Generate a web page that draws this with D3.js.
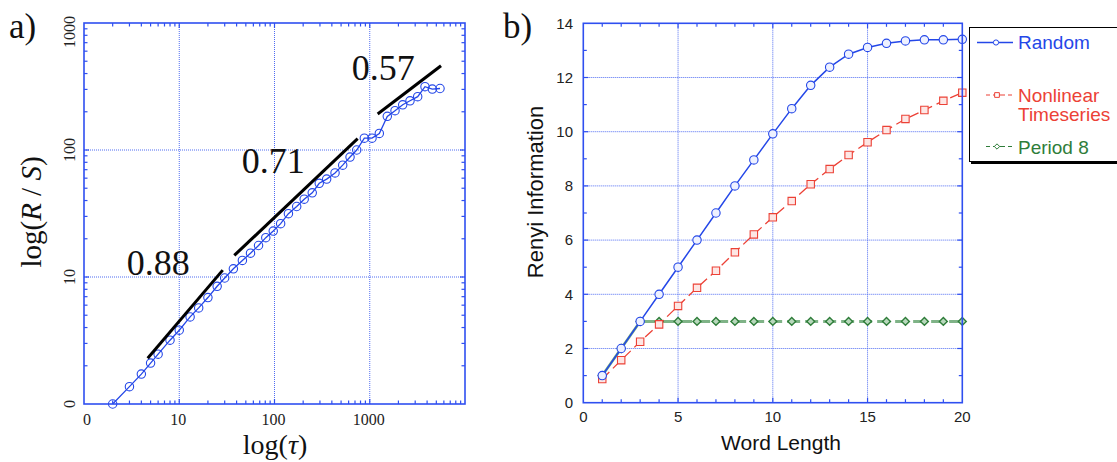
<!DOCTYPE html>
<html>
<head>
<meta charset="utf-8">
<script src="https://cdn.jsdelivr.net/npm/d3@7"></script>
<style>
  html, body { margin: 0; padding: 0; background: #fff; }
  svg { display: block; }
</style>
</head>
<body>
<svg id="chart" width="1117" height="462"></svg>
<script>
// ---- Panel a: rescaled range vs. lag (log-log) ----
const tau = [2, 3, 4, 5, 6, 8, 10, 13, 16, 20, 25, 30, 37, 46, 56, 68, 81, 97, 116, 140,
             171, 205, 249, 295, 353, 432, 520, 621, 730, 877, 1056, 1260, 1528, 1842, 2218,
             2647, 3186, 3802, 4539, 5466];
const rs = [1.0, 1.37, 1.72, 2.1, 2.47, 3.18, 3.81, 4.85, 5.71, 6.89, 8.45, 9.82, 11.6, 13.5,
            15.4, 17.7, 20.4, 23.0, 26.3, 31.5, 35.9, 41.0, 46.0, 54.7, 59.0, 66.0, 76.0, 88.0,
            100.0, 124.0, 124.0, 135.0, 184.0, 204.0, 227.0, 244.0, 263.0, 315.0, 302.0, 305.0];

// scaling-exponent fits: slope, centre (tau, R/S), half-width in decades of tau
const fitSlope = [0.88, 0.71, 0.57];
const fitMidTau = [11.55, 168.1, 2604];
const fitMidRS = [5.1, 42.6, 297.5];
const fitHalfDecades = [0.394, 0.6475, 0.3325];
// where each exponent label sits (tau, R/S at text baseline start)
const fitLabelTau = [2.81, 45.3, 646];
const fitLabelRS = [10.4, 65.5, 356];

const xTicksA = [1, 10, 100, 1000];
const xTickLabelsA = ["0", "10", "100", "1000"];
const yTicksA = [1, 10, 100, 1000];
const yTickLabelsA = ["0", "10", "100", "1000"];

// ---- Panel b: Renyi information vs. word length ----
const wordLength = [1, 2, 3, 4, 5, 6, 7, 8, 9, 10, 11, 12, 13, 14, 15, 16, 17, 18, 19, 20];
const randomInfo = [1, 2, 3, 4, 5, 6, 7, 8, 8.96, 9.92, 10.85, 11.71, 12.38, 12.86, 13.11,
                    13.26, 13.35, 13.39, 13.39, 13.41];
const nonlinearInfo = [0.875, 1.57, 2.25, 2.89, 3.57, 4.24, 4.87, 5.55, 6.21, 6.84, 7.44,
                       8.06, 8.62, 9.14, 9.61, 10.06, 10.47, 10.8, 11.14, 11.44];
const period8Info = [1, 2, 3, 3, 3, 3, 3, 3, 3, 3, 3, 3, 3, 3, 3, 3, 3, 3, 3, 3];
const seriesNames = ["Random", "Nonlinear Timeseries", "Period 8"];

const xTicksB = [0, 5, 10, 15, 20];
const yTicksB = [0, 2, 4, 6, 8, 10, 12, 14];

const svg = d3.select("#chart");
const AXIS = "#2f4ff0";
const GRID = "#4f6cf2";
const BLUE = "#2447e8";
const RED = "#ec4136";
const GREEN = "#2f7d3a";
const SERIF = "'Liberation Serif', 'Times New Roman', serif";
const SANS = "'Liberation Sans', Arial, Helvetica, sans-serif";

// ================= Panel a =================
const xA = d3.scaleLog().domain([1, 10000]).range([84, 465]);
const yA = d3.scaleLog().domain([1, 1000]).range([404, 23]);
const gA = svg.append("g");

// dotted decade grid
gA.selectAll(".gx").data([10, 100, 1000]).join("line")
  .attr("x1", d => xA(d)).attr("x2", d => xA(d))
  .attr("y1", yA.range()[0]).attr("y2", yA.range()[1])
  .attr("stroke", GRID).attr("stroke-width", 1).attr("stroke-dasharray", "1,1");
gA.selectAll(".gy").data([10, 100]).join("line")
  .attr("y1", d => yA(d)).attr("y2", d => yA(d))
  .attr("x1", xA.range()[0]).attr("x2", xA.range()[1])
  .attr("stroke", GRID).attr("stroke-width", 1).attr("stroke-dasharray", "1,1");

// inward ticks on all four sides
function logTicks(domain) {
  const out = [];
  for (let dec = domain[0]; dec < domain[1]; dec *= 10)
    for (let k = 1; k < 10; k++) out.push({v: dec * k, major: k === 1});
  return out.filter(t => t.v > domain[0]);
}
const xtA = logTicks(xA.domain());
const ytA = logTicks(yA.domain());
[yA.range()[0], yA.range()[1]].forEach((yy, i) => {
  gA.append("g").selectAll("line").data(xtA).join("line")
    .attr("x1", d => xA(d.v)).attr("x2", d => xA(d.v))
    .attr("y1", yy).attr("y2", d => yy + (i === 0 ? -1 : 1) * (d.major ? 5 : 3.5))
    .attr("stroke", AXIS).attr("stroke-width", 1.2);
});
[xA.range()[0], xA.range()[1]].forEach((xx, i) => {
  gA.append("g").selectAll("line").data(ytA).join("line")
    .attr("y1", d => yA(d.v)).attr("y2", d => yA(d.v))
    .attr("x1", xx).attr("x2", d => xx + (i === 0 ? 1 : -1) * (d.major ? 5 : 3.5))
    .attr("stroke", AXIS).attr("stroke-width", 1.2);
});

// data line and markers
const lineA = d3.line().x((d, i) => xA(tau[i])).y(d => yA(d));
gA.append("path").datum(rs).attr("d", lineA)
  .attr("fill", "none").attr("stroke", BLUE).attr("stroke-width", 1.3);
gA.selectAll(".pt").data(rs).join("circle")
  .attr("cx", (d, i) => xA(tau[i])).attr("cy", d => yA(d)).attr("r", 4.2)
  .attr("fill", "none").attr("stroke", BLUE).attr("stroke-width", 1.1);

// frame
gA.append("rect")
  .attr("x", xA.range()[0]).attr("y", yA.range()[1])
  .attr("width", xA.range()[1] - xA.range()[0]).attr("height", yA.range()[0] - yA.range()[1])
  .attr("fill", "none").attr("stroke", AXIS).attr("stroke-width", 1.6);

// fitted power-law segments
fitSlope.forEach((s, i) => {
  const lt0 = Math.log10(fitMidTau[i]) - fitHalfDecades[i];
  const lt1 = Math.log10(fitMidTau[i]) + fitHalfDecades[i];
  const ly0 = Math.log10(fitMidRS[i]) - s * fitHalfDecades[i];
  const ly1 = Math.log10(fitMidRS[i]) + s * fitHalfDecades[i];
  gA.append("line")
    .attr("x1", xA(10 ** lt0)).attr("y1", yA(10 ** ly0))
    .attr("x2", xA(10 ** lt1)).attr("y2", yA(10 ** ly1))
    .attr("stroke", "#000").attr("stroke-width", 3);
  gA.append("text")
    .attr("x", xA(fitLabelTau[i])).attr("y", yA(fitLabelRS[i]))
    .attr("font-family", SERIF).attr("font-size", 36).attr("fill", "#111")
    .text(d3.format(".2f")(s));
});

// tick labels
gA.selectAll(".xl").data(xTicksA).join("text")
  .attr("x", (d, i) => xA(d) + (i === 0 ? 3 : -1)).attr("y", 425)
  .attr("text-anchor", "middle").attr("font-family", SERIF).attr("font-size", 16)
  .attr("fill", "#222").text((d, i) => xTickLabelsA[i]);
gA.selectAll(".yl").data(yTicksA).join("text")
  .attr("transform", d => `translate(75,${Math.max(yA(d), 32)}) rotate(-90)`)
  .attr("text-anchor", "middle").attr("font-family", SERIF).attr("font-size", 16)
  .attr("fill", "#222").text((d, i) => yTickLabelsA[i]);

// axis titles
const tx = svg.append("text")
  .attr("x", 275).attr("y", 454).attr("text-anchor", "middle")
  .attr("font-family", SERIF).attr("font-size", 28).attr("fill", "#111");
tx.append("tspan").text("log(");
tx.append("tspan").attr("font-style", "italic").text("τ");
tx.append("tspan").text(")");

const ty = svg.append("text")
  .attr("transform", "translate(41,212) rotate(-90)").attr("text-anchor", "middle")
  .attr("font-family", SERIF).attr("font-size", 29).attr("fill", "#111");
ty.append("tspan").text("log(");
ty.append("tspan").attr("font-style", "italic").text("R");
ty.append("tspan").text(" / ");
ty.append("tspan").attr("font-style", "italic").text("S");
ty.append("tspan").text(")");

svg.append("text").attr("x", 9).attr("y", 38)
  .attr("font-family", SERIF).attr("font-size", 35).attr("fill", "#111").text("a)");

// ================= Panel b =================
const xB = d3.scaleLinear().domain([0, 20]).range([583.3, 962.3]);
const yB = d3.scaleLinear().domain([0, 14]).range([402.7, 23.3]);
const gB = svg.append("g");

gB.selectAll(".gx").data([5, 10, 15]).join("line")
  .attr("x1", d => xB(d)).attr("x2", d => xB(d))
  .attr("y1", yB.range()[0]).attr("y2", yB.range()[1])
  .attr("stroke", GRID).attr("stroke-width", 1).attr("stroke-dasharray", "1,1");
gB.selectAll(".gy").data([2, 4, 6, 8, 10, 12]).join("line")
  .attr("y1", d => yB(d)).attr("y2", d => yB(d))
  .attr("x1", xB.range()[0]).attr("x2", xB.range()[1])
  .attr("stroke", GRID).attr("stroke-width", 1).attr("stroke-dasharray", "1,1");

const xtB = d3.range(1, 20).map(v => ({v, major: v % 5 === 0}));
const ytB = d3.range(1, 14).map(v => ({v, major: v % 2 === 0}));
[yB.range()[0], yB.range()[1]].forEach((yy, i) => {
  gB.append("g").selectAll("line").data(xtB).join("line")
    .attr("x1", d => xB(d.v)).attr("x2", d => xB(d.v))
    .attr("y1", yy).attr("y2", d => yy + (i === 0 ? -1 : 1) * (d.major ? 5 : 3.5))
    .attr("stroke", AXIS).attr("stroke-width", 1.2);
});
[xB.range()[0], xB.range()[1]].forEach((xx, i) => {
  gB.append("g").selectAll("line").data(ytB).join("line")
    .attr("y1", d => yB(d.v)).attr("y2", d => yB(d.v))
    .attr("x1", xx).attr("x2", d => xx + (i === 0 ? 1 : -1) * (d.major ? 5 : 3.5))
    .attr("stroke", AXIS).attr("stroke-width", 1.2);
});

const lineB = d3.line().x((d, i) => xB(wordLength[i])).y(d => yB(d));

// Period 8 (drawn first, underneath)
gB.append("path").datum(period8Info.slice(0, 3)).attr("d", lineB)
  .attr("fill", "none").attr("stroke", "#6fa878").attr("stroke-width", 2.6);
gB.append("path").datum(period8Info)
  .attr("d", d3.line().x((d, i) => xB(wordLength[i])).y(d => yB(d)).defined((d, i) => i >= 2))
  .attr("fill", "none").attr("stroke", "#7fb387").attr("stroke-width", 3)
  .attr("stroke-dasharray", "13,5").attr("stroke-dashoffset", -3);

// Nonlinear timeseries
gB.append("path").datum(nonlinearInfo).attr("d", lineB)
  .attr("fill", "none").attr("stroke", RED).attr("stroke-width", 1.3)
  .attr("stroke-dasharray", "10,5");

// Random
gB.append("path").datum(randomInfo).attr("d", lineB)
  .attr("fill", "none").attr("stroke", BLUE).attr("stroke-width", 1.5);

const diamond = d3.symbol().type(d3.symbolDiamond2).size(40);
const square = d3.symbol().type(d3.symbolSquare2).size(70);

gB.selectAll(".p8").data(period8Info).join("path")
  .attr("transform", (d, i) => `translate(${xB(wordLength[i])},${yB(d)})`)
  .attr("d", diamond).attr("fill", "#b8d8bc").attr("stroke", GREEN).attr("stroke-width", 1.4);
gB.selectAll(".nl").data(nonlinearInfo).join("path")
  .attr("transform", (d, i) => `translate(${xB(wordLength[i])},${yB(d)})`)
  .attr("d", square).attr("fill", "#fde6e4").attr("stroke", RED).attr("stroke-width", 1.1);
gB.selectAll(".rn").data(randomInfo).join("circle")
  .attr("cx", (d, i) => xB(wordLength[i])).attr("cy", d => yB(d)).attr("r", 4.2)
  .attr("fill", "#eef1ff").attr("stroke", BLUE).attr("stroke-width", 1.1);

gB.append("rect")
  .attr("x", xB.range()[0]).attr("y", yB.range()[1])
  .attr("width", xB.range()[1] - xB.range()[0]).attr("height", yB.range()[0] - yB.range()[1])
  .attr("fill", "none").attr("stroke", AXIS).attr("stroke-width", 1.6);

gB.selectAll(".xl").data(xTicksB).join("text")
  .attr("x", d => xB(d)).attr("y", 422).attr("text-anchor", "middle")
  .attr("font-family", SANS).attr("font-size", 15).attr("fill", "#222").text(d => d);
gB.selectAll(".yl").data(yTicksB).join("text")
  .attr("x", 573).attr("y", d => yB(d)).attr("dy", "0.35em").attr("text-anchor", "end")
  .attr("font-family", SANS).attr("font-size", 15).attr("fill", "#222").text(d => d);

svg.append("text").attr("x", 781).attr("y", 450).attr("text-anchor", "middle")
  .attr("font-family", SANS).attr("font-size", 21).attr("fill", "#111").text("Word Length");
svg.append("text").attr("transform", "translate(543,192) rotate(-90)").attr("text-anchor", "middle")
  .attr("font-family", SANS).attr("font-size", 22).attr("fill", "#111").text("Renyi Information");

svg.append("text").attr("x", 503).attr("y", 38)
  .attr("font-family", SERIF).attr("font-size", 35).attr("fill", "#111").text("b)");

// ---- legend ----
const lg = svg.append("g");
lg.append("rect").attr("x", 971).attr("y", 29).attr("width", 170).attr("height", 135).attr("fill", "#000");
lg.append("rect").attr("x", 969.5).attr("y", 27.5).attr("width", 170).attr("height", 134)
  .attr("fill", "#fff").attr("stroke", "#000").attr("stroke-width", 1);

// Random
lg.append("line").attr("x1", 977).attr("x2", 1013).attr("y1", 42.5).attr("y2", 42.5)
  .attr("stroke", BLUE).attr("stroke-width", 1.3);
lg.append("circle").attr("cx", 996).attr("cy", 42.5).attr("r", 2.6)
  .attr("fill", "#fff").attr("stroke", BLUE).attr("stroke-width", 1);
lg.append("text").attr("x", 1018).attr("y", 49).attr("font-family", SANS).attr("font-size", 19)
  .attr("fill", BLUE).text(seriesNames[0]);

// Nonlinear timeseries
lg.append("line").attr("x1", 986).attr("x2", 1012).attr("y1", 95).attr("y2", 95)
  .attr("stroke", RED).attr("stroke-width", 1.2).attr("stroke-dasharray", "4,3,12,3");
lg.append("path").attr("transform", "translate(997,95)")
  .attr("d", d3.symbol().type(d3.symbolSquare2).size(28))
  .attr("fill", "#fff").attr("stroke", RED).attr("stroke-width", 1);
const nlText = lg.append("text").attr("font-family", SANS).attr("font-size", 19).attr("fill", RED);
nlText.append("tspan").attr("x", 1018).attr("y", 102).text("Nonlinear");
nlText.append("tspan").attr("x", 1018).attr("y", 121).text("Timeseries");

// Period 8
lg.append("line").attr("x1", 986).attr("x2", 1012).attr("y1", 146.5).attr("y2", 146.5)
  .attr("stroke", GREEN).attr("stroke-width", 1.2).attr("stroke-dasharray", "4,3,12,3");
lg.append("path").attr("transform", "translate(997,146.5)")
  .attr("d", d3.symbol().type(d3.symbolDiamond2).size(18))
  .attr("fill", "#fff").attr("stroke", GREEN).attr("stroke-width", 1);
lg.append("text").attr("x", 1018).attr("y", 154).attr("font-family", SANS).attr("font-size", 19)
  .attr("fill", GREEN).text(seriesNames[2]);
</script>
</body>
</html>
